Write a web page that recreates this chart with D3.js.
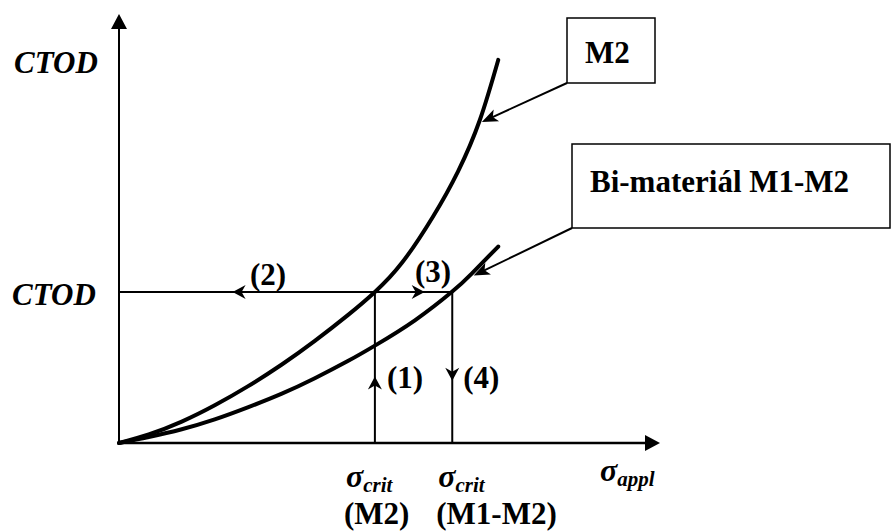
<!DOCTYPE html>
<html>
<head>
<meta charset="utf-8">
<script src="https://cdn.jsdelivr.net/npm/d3@7"></script>
<style>
  html, body { margin: 0; padding: 0; background: #fff; }
  svg text { font-family: "Liberation Serif" !important; font-weight: bold; }
</style>
</head>
<body>
<script>
// curve M2 (single material)
const sigmaM2 = [0, 0.55, 1.16, 1.77, 2.38, 3.01, 3.62, 4.23, 4.73, 5.23, 5.80, 6.27, 6.67, 7.01];
const ctodM2  = [0, 0.20, 0.50, 0.88, 1.32, 1.83, 2.38, 2.98, 3.52, 4.20, 5.27, 6.34, 7.53, 8.93];
// curve Bi-materiál M1-M2
const sigmaBi = [0, 0.55, 1.16, 1.77, 2.38, 3.01, 3.62, 4.23, 4.73, 5.47, 6.16, 6.52, 7.01];
const ctodBi  = [0, 0.14, 0.32, 0.55, 0.83, 1.15, 1.51, 1.91, 2.27, 2.86, 3.53, 3.95, 4.58];

const ctodCrit = 3.52;
const sigmaCrit = [4.73, 6.16];          // M2, M1-M2
const critNames = ["(M2)", "(M1-M2)"];
const stepLabels = ["(1)", "(2)", "(3)", "(4)"];
const curveNames = ["M2", "Bi-materiál M1-M2"];

const width = 891, height = 531;
const fs = 31;

const x = d3.scaleLinear().domain([0, 10]).range([119, 660]);
const y = d3.scaleLinear().domain([0, 10]).range([443, 14]);

const svg = d3.select("body").append("svg")
  .attr("width", width)
  .attr("height", height)
  .style("display", "block");

// every text in Times-like bold
function label(g, px, py, size, italic) {
  return g.append("text")
    .attr("x", px).attr("y", py)
    .attr("font-size", size)
    .attr("font-family", "Liberation Serif")
    .attr("font-weight", "bold")
    .attr("font-style", italic ? "italic" : "normal")
    .attr("fill", "#000");
}

// stealth arrow head, tip at (tx,ty), pointing along angle (degrees)
function arrow(g, tx, ty, angle, len, wid, notch) {
  g.append("path")
    .attr("d", `M0,0L${-len},${-wid / 2}L${-len + notch},0L${-len},${wid / 2}Z`)
    .attr("transform", `translate(${tx},${ty}) rotate(${angle})`)
    .attr("fill", "#000");
}

// construction lines
const guide = svg.append("g").attr("stroke", "#000").attr("stroke-width", 2).attr("fill", "none");
guide.append("line")
  .attr("x1", x(0)).attr("x2", x(sigmaCrit[1]))
  .attr("y1", y(ctodCrit)).attr("y2", y(ctodCrit));
sigmaCrit.forEach(s => {
  guide.append("line")
    .attr("x1", x(s)).attr("x2", x(s))
    .attr("y1", y(0)).attr("y2", y(ctodCrit));
});

// little arrows on the guide lines
const ga = svg.append("g");
arrow(ga, x(2.10), y(ctodCrit), 180, 13, 14, 4);          // (2)
arrow(ga, x(5.65), y(ctodCrit), 0, 13, 14, 4);            // (3)
arrow(ga, x(sigmaCrit[0]), y(1.55), -90, 13, 14, 4);      // (1)
arrow(ga, x(sigmaCrit[1]), y(1.45), 90, 13, 14, 4);       // (4)

// curves
const line = d3.line()
  .x(d => x(d[0]))
  .y(d => y(d[1]))
  .curve(d3.curveNatural);

const m2 = d3.zip(sigmaM2, ctodM2);
const bi = d3.zip(sigmaBi, ctodBi);

svg.append("g")
  .attr("fill", "none")
  .attr("stroke", "#000")
  .attr("stroke-width", 4)
  .attr("stroke-linecap", "round")
  .selectAll("path")
  .data([m2, bi])
  .enter().append("path")
    .attr("d", line);

// axes
const axes = svg.append("g");
axes.append("line")
  .attr("x1", x(0)).attr("x2", x(0))
  .attr("y1", y(0) + 1).attr("y2", y(10) + 12)
  .attr("stroke", "#000").attr("stroke-width", 2);
axes.append("line")
  .attr("x1", x(0) - 1).attr("x2", x(10) - 12)
  .attr("y1", y(0)).attr("y2", y(0))
  .attr("stroke", "#000").attr("stroke-width", 2.5);
arrow(axes, x(0), y(10), -90, 15, 16, 0);
arrow(axes, x(10), y(0), 0, 15, 16, 0);

// axis labels
label(svg, 14, 73, fs, true).text("CTOD");
label(svg, 12, 305, fs, true).text("CTOD");

function sigmaLabel(px, py, sub) {
  const t = label(svg, px, py, fs, true);
  t.append("tspan").attr("font-size", 32).text("σ");
  t.append("tspan").attr("font-size", 21).attr("dy", 5).text(sub);
}
sigmaLabel(600, 481, "appl");
sigmaLabel(x(sigmaCrit[0]) - 29, 487, "crit");
sigmaLabel(x(sigmaCrit[1]) - 14, 487, "crit");

label(svg, x(sigmaCrit[0]) - 31, 524, fs, false).text(critNames[0]);
label(svg, x(sigmaCrit[1]) - 16, 524, fs, false).text(critNames[1]);

// step labels
const steps = [
  [x(sigmaCrit[0]) + 12, 388],
  [250, 285],
  [415, 282],
  [x(sigmaCrit[1]) + 11, 388]
];
stepLabels.forEach((d, i) => label(svg, steps[i][0], steps[i][1], fs, false).text(d));

// callout boxes with leader arrows
const boxes = [
  { x0: 567, y0: 18, x1: 655, y1: 83, tx: 585, ty: 63, tip: m2[12] },
  { x0: 572, y0: 144, x1: 890, y1: 228, tx: 590, ty: 192, tip: bi[11] }
];
boxes.forEach((b, i) => {
  const g = svg.append("g");
  g.append("rect")
    .attr("x", b.x0).attr("y", b.y0)
    .attr("width", b.x1 - b.x0).attr("height", b.y1 - b.y0)
    .attr("fill", "#fff").attr("stroke", "#000").attr("stroke-width", 1.5);
  label(g, b.tx, b.ty, fs, false).text(curveNames[i]);
  const tx = x(b.tip[0]) + 2, ty = y(b.tip[1]) + 2;
  const ang = Math.atan2(ty - b.y1, tx - b.x0) * 180 / Math.PI;
  g.append("line")
    .attr("x1", b.x0).attr("y1", b.y1)
    .attr("x2", tx - 10 * Math.cos(ang * Math.PI / 180))
    .attr("y2", ty - 10 * Math.sin(ang * Math.PI / 180))
    .attr("stroke", "#000").attr("stroke-width", 2);
  arrow(g, tx, ty, ang, 16, 13, 4);
});
</script>
</body>
</html>
